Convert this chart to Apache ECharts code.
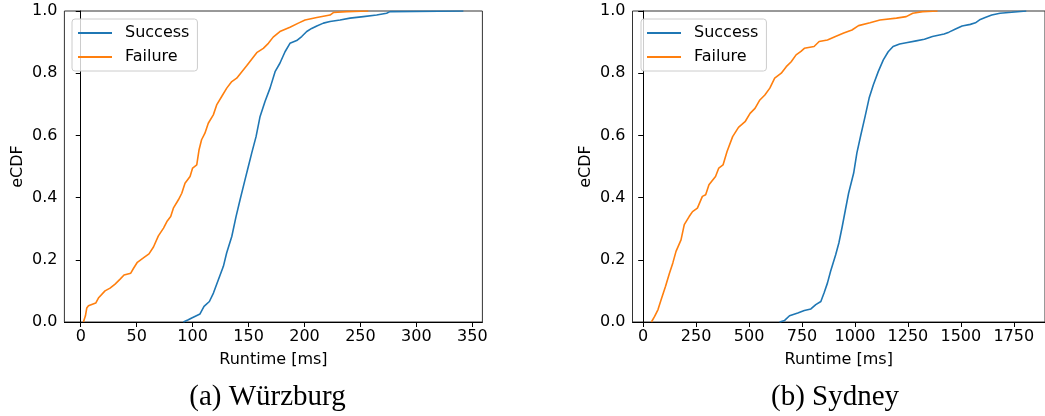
<!DOCTYPE html>
<html>
<head>
<meta charset="UTF-8">
<title>eCDF runtime</title>
<script src="https://cdn.jsdelivr.net/npm/echarts@6/dist/echarts.min.js"></script>
<style>
  html, body { margin: 0; padding: 0; background: #fff; }
  #main { width: 1045px; height: 416px; }
</style>
</head>
<body>
<div id="main"></div>
<script>
// Würzburg, [runtime ms, eCDF]
var wueSuccess = [
    [91.7, 0], [96.2, 0.007], [99.2, 0.013], [106.6, 0.026], [110.2, 0.05], [115, 0.066],
    [118.6, 0.093], [123, 0.136], [127.5, 0.179], [130.4, 0.222], [135, 0.275], [138.8, 0.339],
    [142.4, 0.393], [146.8, 0.457], [149.8, 0.5], [152.8, 0.543], [156.7, 0.596], [160.3, 0.661],
    [164.7, 0.709], [169.2, 0.752], [173.7, 0.805], [178, 0.832], [182.6, 0.869], [187, 0.896],
    [193, 0.905], [197.5, 0.918], [202, 0.934], [206.4, 0.944], [211, 0.952], [216.9, 0.961],
    [222.8, 0.966], [231.8, 0.971], [240.7, 0.977], [252.6, 0.982], [264.5, 0.987], [273.4, 0.993],
    [276.4, 0.998], [342, 1.0]
];
var wueFailure = [
    [2.4, 0], [4.2, 0.02], [5.4, 0.045], [6.9, 0.052], [13.4, 0.061], [15.8, 0.077], [21.7, 0.1],
    [26.2, 0.109], [30.7, 0.122], [35.2, 0.138], [38.7, 0.151], [44.7, 0.157], [47.1, 0.172],
    [50.6, 0.192], [56, 0.206], [61, 0.219], [65, 0.241], [69.4, 0.277], [74, 0.302], [77, 0.323],
    [80.4, 0.339], [82.8, 0.366], [87.3, 0.393], [90.3, 0.414], [93.2, 0.446], [97.7, 0.468],
    [100, 0.495], [103.7, 0.505], [105.7, 0.553], [108, 0.586], [111, 0.607], [114, 0.639],
    [118.5, 0.666], [121.5, 0.698], [126, 0.725], [130.5, 0.752], [135, 0.773], [139.4, 0.784],
    [144, 0.805], [148.3, 0.824], [152.8, 0.845], [157.3, 0.866], [163.2, 0.88], [167.7, 0.896],
    [172, 0.916], [178, 0.934], [187, 0.948], [194.5, 0.961], [200.5, 0.971], [211, 0.979],
    [222.8, 0.987], [225.8, 0.995], [237.7, 0.998], [257, 1.0]
];
// Sydney
var sydSuccess = [
    [644, 0], [668, 0.005], [691, 0.02], [730, 0.029], [761, 0.037], [792, 0.042], [815, 0.056],
    [839, 0.066], [854, 0.093], [870, 0.125], [885, 0.163], [909, 0.216], [924, 0.254],
    [940, 0.307], [955, 0.361], [970, 0.414], [994, 0.479], [1009, 0.543], [1028, 0.602],
    [1048, 0.661], [1067, 0.72], [1087, 0.763], [1110, 0.805], [1134, 0.843], [1157, 0.869],
    [1180, 0.886], [1211, 0.894], [1242, 0.898], [1289, 0.904], [1328, 0.909], [1366, 0.918],
    [1421, 0.926], [1444, 0.932], [1475, 0.942], [1506, 0.952], [1545, 0.957], [1569, 0.962],
    [1592, 0.973], [1615, 0.979], [1646, 0.987], [1685, 0.993], [1740, 0.996], [1809, 1.0]
];
var sydFailure = [
    [38.8, 0], [54, 0.018], [70, 0.04], [85, 0.072], [105.6, 0.115], [124, 0.157], [140, 0.19],
    [155, 0.227], [178.6, 0.264], [194, 0.313], [217, 0.339], [233, 0.355], [256, 0.366],
    [279.5, 0.404], [295, 0.409], [310.6, 0.441], [341.6, 0.468], [357, 0.495], [377, 0.505],
    [396, 0.548], [422.4, 0.596], [450, 0.626], [481, 0.644], [504.7, 0.671], [528, 0.687],
    [551, 0.714], [574.5, 0.73], [598, 0.752], [621, 0.784], [652, 0.8], [675.6, 0.821],
    [699, 0.837], [722, 0.859], [745, 0.87], [761, 0.88], [807, 0.886], [831, 0.902],
    [870, 0.907], [908, 0.918], [947, 0.929], [986, 0.939], [1017, 0.953], [1071, 0.962],
    [1118, 0.971], [1196, 0.977], [1242, 0.982], [1273, 0.993], [1320, 0.998], [1390, 1.0]
];

var wueTicks = [0, 50, 100, 150, 200, 250, 300, 350];
var sydTicks = [0, 250, 500, 750, 1000, 1250, 1500, 1750];
var captions = ['(a) Würzburg', '(b) Sydney'];

var font = 'DejaVu Sans';
var blue = '#1f77b4', orange = '#ff7f0e';

function xAxis(idx, min, max, ticks) {
    return {
        type: 'value', gridIndex: idx, min: min, max: max,
        name: 'Runtime [ms]', nameLocation: 'middle', nameGap: 30,
        nameTextStyle: { color: '#000', fontSize: 16, fontFamily: font },
        axisLine: { show: true, lineStyle: { color: '#000', width: 1 } },
        axisTick: { show: true, customValues: ticks, length: 5, lineStyle: { color: '#000' } },
        axisLabel: {
            customValues: ticks, margin: 7, color: '#000', fontSize: 16, fontFamily: font,
            formatter: function (v) { return String(v); }
        },
        splitLine: { show: false }
    };
}

function yAxis(idx) {
    return {
        type: 'value', gridIndex: idx, min: 0, max: 1, interval: 0.2,
        name: 'eCDF', nameLocation: 'middle', nameGap: 39,
        nameTextStyle: { color: '#000', fontSize: 16, fontFamily: font },
        axisLine: { show: true, lineStyle: { color: '#000', width: 1 } },
        axisTick: { show: true, length: 5, lineStyle: { color: '#000' } },
        axisLabel: {
            margin: 7, color: '#000', fontSize: 16, fontFamily: font,
            formatter: function (v) { return v.toFixed(1); }
        },
        splitLine: { show: false }
    };
}

function line(name, idx, data, color) {
    return {
        name: name, type: 'line', xAxisIndex: idx, yAxisIndex: idx,
        data: data, showSymbol: false, symbol: 'none',
        lineStyle: { color: color, width: 1.6 }, itemStyle: { color: color },
        animation: false
    };
}

function legend(left) {
    return {
        left: left, top: 19, orient: 'vertical',
        data: ['Success', 'Failure'],
        icon: 'rect', itemWidth: 34, itemHeight: 2, itemGap: 6,
        padding: [5, 8, 5, 6],
        backgroundColor: 'rgba(255,255,255,0.8)',
        borderColor: '#ccc', borderWidth: 1, borderRadius: 3,
        textStyle: { color: '#000', fontSize: 16, fontFamily: font, padding: [0, 0, 0, 8], lineHeight: 18 }
    };
}

var myChart = echarts.init(document.getElementById('main'));
myChart.setOption({
    animation: false,
    grid: [
        { left: 64.4, top: 11, width: 418, height: 311, show: true, borderColor: '#333', borderWidth: 1 },
        { left: 632.5, top: 11, width: 418.2, height: 311, show: true, borderColor: '#333', borderWidth: 1 }
    ],
    legend: [legend(72), legend(641)],
    xAxis: [xAxis(0, -14.6, 359, wueTicks), xAxis(1, -50.5, 1897.5, sydTicks)],
    yAxis: [yAxis(0), yAxis(1)],
    series: [
        line('Success', 0, wueSuccess, blue),
        line('Failure', 0, wueFailure, orange),
        line('Success', 1, sydSuccess, blue),
        line('Failure', 1, sydFailure, orange)
    ],
    graphic: [
        { type: 'text', x: 267.5, y: 397, style: { text: captions[0], font: '29px "Liberation Serif"', fill: '#000', align: 'center', verticalAlign: 'middle' } },
        { type: 'text', x: 835, y: 397, style: { text: captions[1], font: '29px "Liberation Serif"', fill: '#000', align: 'center', verticalAlign: 'middle' } }
    ]
});
</script>
</body>
</html>
